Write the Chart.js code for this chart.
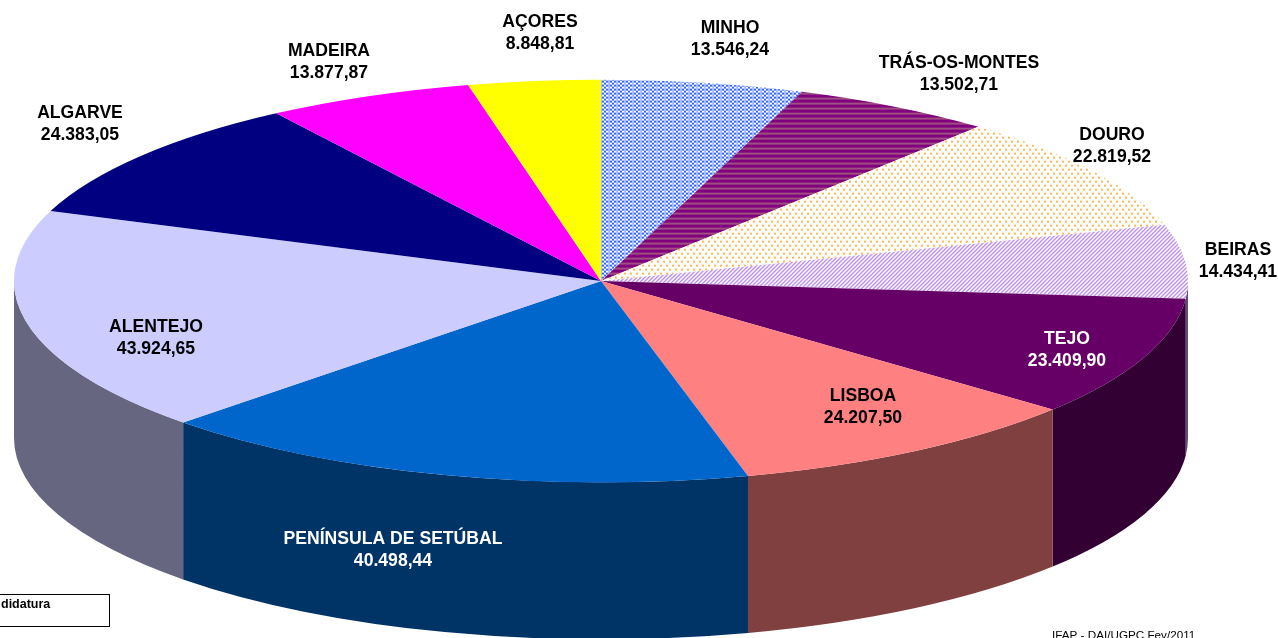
<!DOCTYPE html>
<html><head><meta charset="utf-8">
<style>html,body{margin:0;padding:0;background:#fff;overflow:hidden}canvas{display:block}</style>
<script src="https://cdn.jsdelivr.net/npm/chart.js@4/dist/chart.umd.min.js"></script>
</head><body>
<canvas id="c" width="1278" height="638"></canvas>
<script>
const categories = ['MINHO','TRÁS-OS-MONTES','DOURO','BEIRAS','TEJO','LISBOA','PENÍNSULA DE SETÚBAL','ALENTEJO','ALGARVE','MADEIRA','AÇORES'];
const values = [13546.24,13502.71,22819.52,14434.41,23409.90,24207.50,40498.44,43924.65,24383.05,13877.87,8848.81];
const valueLabels = ['13.546,24','13.502,71','22.819,52','14.434,41','23.409,90','24.207,50','40.498,44','43.924,65','24.383,05','13.877,87','8.848,81'];
const sideColors = ['#5c6a99','#400040','#807a60','#5f4d78','#330033','#804040','#003366','#666680','#000040','#800080','#808000'];
const labelCenters = [[730,28],[959,63],[1112,135],[1238,250],[1067,339],[863,396],[393,539],[156,327],[80,113],[329,51],[540,22]];
const labelColors = ['#000','#000','#000','#000','#fff','#000','#fff','#000','#000','#000','#000'];
const tilt = 0.343, radius = 587, depth = 157;

const canvas = document.getElementById('c');
function tile(rows, palette){
  const h = rows.length, w = rows[0].length, cv = document.createElement('canvas');
  cv.width = w; cv.height = h;
  const x = cv.getContext('2d');
  rows.forEach((r,j)=>[...r].forEach((ch,i)=>{x.fillStyle = palette[ch]; x.fillRect(i,j,1,1);}));
  const p = canvas.getContext('2d').createPattern(cv,'repeat');
  p.setTransform(new DOMMatrix().scale(1,1/tilt));
  return p;
}
const minho = tile(['llbbwwbb','llbbwwbb','llwwbbww','llwwbbww'],{b:'#3366ff',w:'#ffffff',l:'#a8c0ff'});
const tras = tile(['p','p','p','m','m'],{p:'#800080',m:'#a0507e'});
const douro = tile(['oo....','oo....','......','......','...oo.','...oo.','......','......'],{o:'#ffb850','.':'#ffffff'});
const beiras = tile(['llww','lwwl','wwll','wllw'],{l:'#c090f0',w:'#ffffff'});
const fills = [minho,tras,douro,beiras,'#660066','#ff8080','#0066cc','#ccccff','#000080','#ff00ff','#ffff00'];

const pie3d = {
  id:'pie3d',
  beforeDatasetsDraw(chart){
    const ctx = chart.ctx, arcs = chart.getDatasetMeta(0).data;
    arcs.forEach((arc,i)=>{
      const {x,y,startAngle,endAngle,outerRadius} = arc.getProps(['x','y','startAngle','endAngle','outerRadius'],true);
      const a0 = Math.max(startAngle,0), a1 = Math.min(endAngle,Math.PI);
      if(a1<=a0) return;
      ctx.beginPath();
      ctx.ellipse(x,y,outerRadius,outerRadius*tilt,0,a0,a1);
      ctx.ellipse(x,y+depth,outerRadius,outerRadius*tilt,0,a1,a0,true);
      ctx.closePath();
      ctx.fillStyle = sideColors[i];
      ctx.fill();
    });
    const a = arcs[0];
    ctx.save();
    ctx.translate(a.x,a.y); ctx.scale(1,tilt); ctx.translate(-a.x,-a.y);
  },
  afterDatasetsDraw(chart){
    const ctx = chart.ctx;
    ctx.restore();
    ctx.save();
    ctx.font = 'bold 17.6px "Liberation Sans", Arial, sans-serif';
    ctx.textAlign = 'center'; ctx.textBaseline = 'middle';
    categories.forEach((name,i)=>{
      const [x,y] = labelCenters[i];
      ctx.fillStyle = labelColors[i];
      ctx.fillText(name,x,y);
      ctx.fillText(valueLabels[i],x,y+22);
    });
    ctx.strokeStyle = '#000'; ctx.lineWidth = 1;
    ctx.strokeRect(-2.5,594.5,112,32);
    ctx.fillStyle = '#000';
    ctx.textAlign = 'left';
    ctx.font = 'bold 12.5px "Liberation Sans", Arial, sans-serif';
    ctx.fillText('didatura',1,605);
    ctx.font = '11.7px "Liberation Sans", Arial, sans-serif';
    ctx.fillText('IFAP - DAI/UGPC Fev/2011',1052,636);
    ctx.restore();
  }
};

new Chart(canvas,{
  type:'pie',
  data:{labels:categories,datasets:[{data:values,backgroundColor:fills,borderWidth:0,clip:false}]},
  options:{
    responsive:false,animation:false,
    radius:radius,
    layout:{padding:{left:0,top:0,right:76,bottom:76}},
    events:[],
    plugins:{legend:{display:false},tooltip:{enabled:false}}
  },
  plugins:[pie3d]
});
</script>
</body></html>
